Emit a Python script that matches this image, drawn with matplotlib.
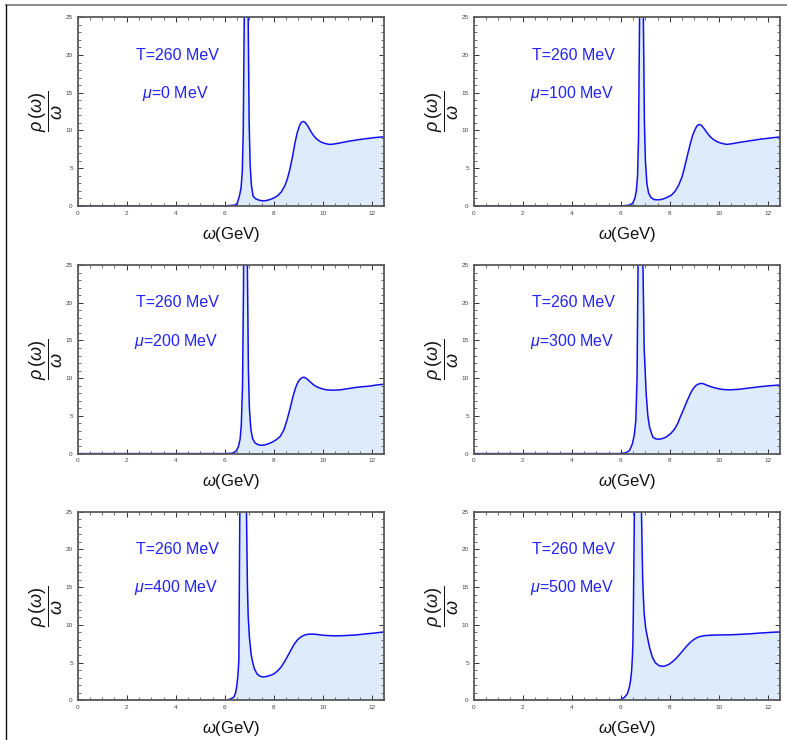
import matplotlib
matplotlib.use("Agg")
import matplotlib.pyplot as plt
from matplotlib.ticker import MultipleLocator
from matplotlib.lines import Line2D

plt.rcParams['font.family'] = ['Liberation Sans', 'DejaVu Sans']
plt.rcParams['mathtext.fontset'] = 'custom'
plt.rcParams['mathtext.rm'] = 'Liberation Sans'
plt.rcParams['mathtext.it'] = 'Liberation Sans:italic'
plt.rcParams['mathtext.bf'] = 'Liberation Sans:bold'

# ---------------- data ----------------
temperature_label = "T=260 MeV"
mu_values = [0, 100, 200, 300, 400, 500]

omega_mu0 = [0, 6.0, 6.4, 6.5, 6.6, 6.66, 6.71, 6.75, 6.79, 6.83, 6.87, 6.91, 6.95, 6.99, 7.03, 7.08, 7.15, 7.25,
             7.4, 7.55, 7.7, 7.85, 8.0, 8.15, 8.3, 8.45, 8.55, 8.65, 8.75, 8.85, 8.95, 9.05, 9.12, 9.2, 9.28,
             9.38, 9.5, 9.62, 9.75, 9.9, 10.05, 10.25, 10.45, 10.7, 11.1, 11.6, 12.1, 12.5]
rho_mu0 = [0, 0, 0.1, 0.3, 1.4, 2.4, 4.5, 10, 25, 60, 90, 55, 25, 11, 5.5, 2.8, 1.3, 0.95, 0.75, 0.66, 0.72,
           0.85, 1.05, 1.35, 1.85, 2.7, 3.6, 4.85, 6.4, 8.2, 9.7, 10.7, 11.1, 11.2, 11.05, 10.6, 9.9, 9.3,
           8.85, 8.5, 8.3, 8.15, 8.2, 8.35, 8.6, 8.85, 9.05, 9.17]

omega_mu100 = [0, 6.0, 6.35, 6.48, 6.57, 6.63, 6.68, 6.72, 6.76, 6.8, 6.84, 6.88, 6.92, 6.96, 7.0, 7.06, 7.13,
               7.23, 7.35, 7.47, 7.6, 7.75, 7.9, 8.05, 8.2, 8.35, 8.5, 8.61, 8.72, 8.82, 8.92, 9.02, 9.1, 9.19,
               9.28, 9.38, 9.5, 9.62, 9.75, 9.9, 10.05, 10.3, 10.55, 10.8, 11.2, 11.7, 12.1, 12.5]
rho_mu100 = [0, 0, 0.1, 0.35, 1.0, 2.0, 4.0, 9, 24, 60, 90, 55, 24, 11, 6, 3.0, 1.7, 1.1, 0.85, 0.8, 0.82,
             0.95, 1.15, 1.4, 1.9, 2.7, 3.9, 5.3, 6.8, 8.1, 9.3, 10.1, 10.6, 10.8, 10.7, 10.3, 9.75, 9.25,
             8.85, 8.55, 8.35, 8.15, 8.25, 8.4, 8.6, 8.85, 9.0, 9.15]

omega_mu200 = [0, 6.0, 6.3, 6.45, 6.55, 6.62, 6.67, 6.72, 6.76, 6.8, 6.84, 6.88, 6.92, 6.96, 7.0, 7.06, 7.13,
               7.22, 7.34, 7.48, 7.62, 7.78, 7.95, 8.1, 8.25, 8.4, 8.53, 8.66, 8.78, 8.88, 8.98, 9.08, 9.16,
               9.25, 9.35, 9.48, 9.62, 9.78, 9.95, 10.15, 10.42, 10.7, 11.0, 11.4, 11.9, 12.2, 12.5]
rho_mu200 = [0, 0, 0.05, 0.3, 0.9, 1.9, 3.8, 9, 22, 55, 85, 55, 24, 11, 6, 3.2, 2.0, 1.45, 1.2, 1.1, 1.15,
             1.3, 1.55, 1.85, 2.25, 3.1, 4.4, 6.0, 7.6, 8.7, 9.5, 9.9, 10.1, 10.1, 9.9, 9.5, 9.1, 8.8, 8.6,
             8.45, 8.4, 8.45, 8.6, 8.8, 8.95, 9.1, 9.2]

omega_mu300 = [0, 5.9, 6.2, 6.35, 6.47, 6.55, 6.61, 6.66, 6.7, 6.75, 6.8, 6.85, 6.9, 6.95, 7.03, 7.1, 7.17,
               7.3, 7.42, 7.55, 7.7, 7.85, 8.03, 8.18, 8.32, 8.43, 8.55, 8.65, 8.75, 8.84, 8.95, 9.05, 9.15,
               9.25, 9.35, 9.48, 9.62, 9.78, 9.95, 10.15, 10.46, 10.8, 11.2, 11.7, 12.1, 12.5]
rho_mu300 = [0, 0, 0.1, 0.4, 1.3, 2.5, 4.4, 10, 25, 60, 85, 55, 25, 14, 8.0, 5.0, 3.5, 2.2, 1.95, 1.9, 2.0,
             2.2, 2.65, 3.2, 4.0, 4.9, 5.8, 6.6, 7.35, 8.0, 8.6, 9.0, 9.2, 9.3, 9.28, 9.1, 8.92, 8.76, 8.62,
             8.5, 8.45, 8.52, 8.68, 8.88, 9.0, 9.1]

omega_mu400 = [0, 5.8, 6.1, 6.25, 6.37, 6.44, 6.48, 6.53, 6.57, 6.61, 6.66, 6.71, 6.75, 6.8, 6.84, 6.88, 6.92,
               6.95, 7.0, 7.07, 7.13, 7.2, 7.31, 7.43, 7.55, 7.7, 7.85, 8.0, 8.15, 8.29, 8.42, 8.55, 8.7, 8.84,
               8.97, 9.1, 9.25, 9.4, 9.55, 9.7, 9.9, 10.1, 10.4, 10.7, 11.0, 11.3, 11.6, 11.9, 12.2, 12.5]
rho_mu400 = [0, 0, 0.05, 0.2, 0.44, 1.0, 1.77, 3.2, 5.3, 25, 45, 60, 65, 55, 38, 25, 15, 11.2, 8.4, 6.1,
             5.1, 4.2, 3.5, 3.2, 3.1, 3.15, 3.3, 3.5, 3.9, 4.4, 5.05, 5.8, 6.7, 7.5, 8.05, 8.4, 8.65, 8.76,
             8.78, 8.75, 8.67, 8.6, 8.55, 8.55, 8.6, 8.65, 8.75, 8.85, 8.95, 9.07]

omega_mu500 = [0, 5.7, 6.0, 6.15, 6.27, 6.35, 6.4, 6.44, 6.47, 6.49, 6.51, 6.53, 6.56, 6.6, 6.64, 6.69, 6.74,
               6.79, 6.84, 6.89, 6.92, 6.95, 7.01, 7.08, 7.17, 7.28, 7.4, 7.55, 7.69, 7.8, 7.95, 8.1, 8.25,
               8.43, 8.57, 8.7, 8.84, 8.97, 9.1, 9.25, 9.4, 9.51, 9.7, 10.0, 10.3, 10.59, 10.9, 11.3, 11.6,
               11.9, 12.2, 12.5]
rho_mu500 = [0, 0, 0.1, 0.4, 0.9, 1.8, 2.7, 4.0, 5.75, 7.5, 12, 18, 28, 40, 50, 52, 45, 35, 25, 16, 13.5,
             11.5, 9.6, 8.4, 7.0, 5.75, 5.0, 4.6, 4.5, 4.55, 4.75, 5.1, 5.55, 6.2, 6.75, 7.25, 7.7, 8.05, 8.3,
             8.47, 8.56, 8.6, 8.63, 8.66, 8.68, 8.7, 8.75, 8.82, 8.9, 8.96, 9.02, 9.07]

omegas = [omega_mu0, omega_mu100, omega_mu200, omega_mu300, omega_mu400, omega_mu500]
rhos = [rho_mu0, rho_mu100, rho_mu200, rho_mu300, rho_mu400, rho_mu500]

x_ticks = [0, 2, 4, 6, 8, 10, 12]
y_ticks = [0, 5, 10, 15, 20, 25]

# ---------------- figure ----------------
W, H = 787, 740
fig = plt.figure(figsize=(W / 100, H / 100), dpi=100)

lefts = [77.7, 473.7]
tops = [17.3, 265.0, 511.7]
aw, ah = 306.6, 188.6

line_color = '#1010f0'
fill_color = '#ddebfb'
text_color = '#2323f5'

for i in range(6):
    r, c = divmod(i, 2)
    ax = fig.add_axes([lefts[c] / W, 1 - (tops[r] + ah) / H, aw / W, ah / H])
    ax.fill_between(omegas[i], 0, rhos[i], color=fill_color, linewidth=0)
    ax.plot(omegas[i], rhos[i], color=line_color, lw=1.1, solid_joinstyle='round')
    ax.set_xlim(0, 12.5)
    ax.set_ylim(0, 25)
    ax.set_xticks(x_ticks)
    ax.set_yticks(y_ticks)
    ax.xaxis.set_minor_locator(MultipleLocator(0.5))
    ax.yaxis.set_minor_locator(MultipleLocator(1))
    ax.tick_params(which='both', direction='in', top=True, right=True, color='#333333')
    ax.tick_params(which='major', length=3.5, width=0.7, labelsize=4.6, labelcolor='#444444', pad=3.5)
    ax.tick_params(which='minor', length=2, width=0.5)
    for s in ax.spines.values():
        s.set_color('#5a5a5a')
        s.set_linewidth(1.3)
    ax.text(4.07, 20.0, temperature_label, color=text_color, fontsize=11.5, ha='center', va='center')
    ax.text(4.0, 14.9, r'$\mu$=%d MeV' % mu_values[i], color=text_color, fontsize=11.5,
            ha='center', va='center')
    ax.set_xlabel(r'$\omega$(GeV)', fontsize=12, labelpad=6.5, color='#111111')
    ax.text(-0.103, 0.5, r'$\dfrac{\rho\,(\omega)}{\omega}$', transform=ax.transAxes, rotation=90,
            fontsize=13, ha='center', va='center', color='#111111')

# outer frame lines
fig.add_artist(Line2D([5.5 / W, 1.0], [1 - 4.5 / H, 1 - 4.5 / H], color='#777777', lw=1.2,
                      transform=fig.transFigure))
fig.add_artist(Line2D([5.5 / W, 5.5 / W], [0, 1 - 4.5 / H], color='#111111', lw=1.0,
                      transform=fig.transFigure))

fig.savefig('out.png', dpi=100)
